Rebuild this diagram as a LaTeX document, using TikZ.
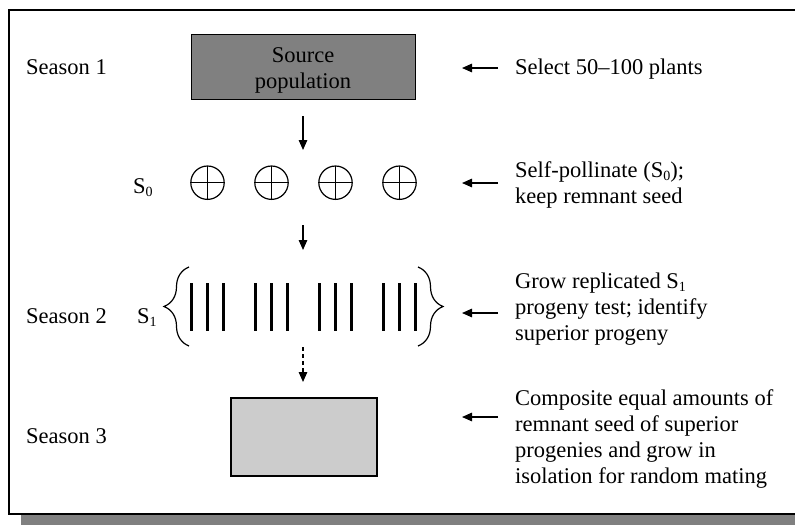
\documentclass[tikz,border=0pt]{standalone}
\usepackage{fontspec}
\setmainfont{Liberation Serif}
\usetikzlibrary{arrows.meta,decorations.pathreplacing}
\newcommand\subn[1]{\raisebox{-0.3ex}{\fontsize{14}{14}\selectfont #1}}
\definecolor{darkbox}{HTML}{808080}
\definecolor{lightbox}{HTML}{CCCCCC}
\definecolor{shadowgray}{HTML}{808080}
\tikzset{
  txt/.style={font=\fontsize{22.5}{26}\selectfont},
  lbl/.style={txt, anchor=base west, inner sep=0pt},
  note/.style={txt, anchor=north west, inner sep=0pt, align=left},
  arr/.style={line width=1.3pt, -{Triangle[length=10pt,width=8.5pt]}},
  selfing/.style={circle, draw, line width=1.2pt, minimum size=33.4pt, inner sep=0pt,
    path picture={\draw[line width=1.2pt] (path picture bounding box.north) -- (path picture bounding box.south)
      (path picture bounding box.west) -- (path picture bounding box.east);}},
  bar/.style={line width=3pt},
  bracestyle/.style={decorate, decoration={brace, amplitude=25pt}, line width=1.2pt},
}
\begin{document}
\begin{tikzpicture}[x=1pt,y=-1pt]
\useasboundingbox (0,0) rectangle (795,525);
% frame and shadow
\fill[shadowgray] (21,515) rectangle (795,525);
\draw[line width=2pt] (795,10) -- (9,10) -- (9,513.7) -- (795,513.7);

% left labels
\node[lbl] (s1) at (26,74) {Season 1};
\node[lbl] (s2) at (26,323) {Season 2};
\node[lbl] (s3) at (26,443) {Season 3};
\node[lbl] (g0) at (133,193) {S\subn{0}};
\node[lbl] (g1) at (137,323) {S\subn{1}};

% source box
\node[draw, line width=1pt, fill=darkbox, minimum width=224pt, minimum height=65pt,
      inner sep=0pt] (src) at (303,66.5) {};
\node[txt, anchor=north, inner sep=0pt, align=center] (srctxt) at (303,43.8) {\strut Source\\population};

% S0 plants
\foreach \i/\x in {1/207.5,2/271.5,3/335.5,4/399.5}
  \node[selfing] (c\i) at (\x,182.7) {};

% S1 rows
\foreach \x in {207,271,335,399} {
  \draw[bar] (\x-16,283) -- (\x-16,331);
  \draw[bar] (\x,283) -- (\x,331);
  \draw[bar] (\x+16,283) -- (\x+16,331);
}
\draw[bracestyle] (189,346) -- (189,267);
\draw[bracestyle] (418,267) -- (418,346);

% composite box
\node[draw, line width=1.2pt, fill=lightbox, minimum width=146pt, minimum height=78pt,
      inner sep=0pt] (comp) at (304,437) {};

% vertical arrows
\coordinate (a1s) at (303,116); \coordinate (a1e) at (303,150);
\coordinate (a2s) at (303,225); \coordinate (a2e) at (303,250);
\coordinate (a3s) at (303,347); \coordinate (a3e) at (303,382);
\draw[arr] (a1s) -- (a1e);
\draw[arr] (a2s) -- (a2e);
\draw[arr, dash pattern=on 4pt off 3pt] (a3s) -- (a3e);

% right notes
\node[lbl] (n1) at (515,74) {Select 50--100 plants};
\node[note] (n2) at (515,158.8) {\strut Self-pollinate (S\subn{0});\\keep remnant seed};
\node[note] (n3) at (515,269.8) {\strut Grow replicated S\subn{1}\\progeny test; identify\\superior progeny};
\node[note] (n4) at (515,386.8) {\strut Composite equal amounts of\\remnant seed of superior\\progenies and grow in\\isolation for random mating};

% left-pointing arrows
\coordinate (b1s) at (498,68);  \coordinate (b1e) at (462,68);
\coordinate (b2s) at (498,183); \coordinate (b2e) at (462,183);
\coordinate (b3s) at (498,313); \coordinate (b3e) at (462,313);
\coordinate (b4s) at (498,417); \coordinate (b4e) at (462,417);
\draw[arr] (b1s) -- (b1e);
\draw[arr] (b2s) -- (b2e);
\draw[arr] (b3s) -- (b3e);
\draw[arr] (b4s) -- (b4e);
\end{tikzpicture}
\end{document}
